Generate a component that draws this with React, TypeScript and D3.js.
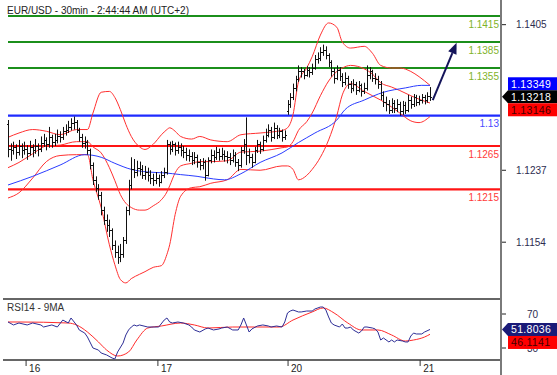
import React from "react";
import * as d3 from "d3";

const title = "EUR/USD - 30min - 2:44:44 AM (UTC+2)";

// OHLC (30 min bars); open = previous close unless overridden
const closes = [
  1.1262, 1.1260, 1.1264, 1.1258, 1.1265, 1.1260, 1.1262, 1.1257, 1.1264, 1.1260,
  1.1265, 1.1261, 1.1269, 1.1272, 1.1267, 1.1275, 1.1270, 1.1272, 1.1277, 1.1275,
  1.1282, 1.1284, 1.1287, 1.1291, 1.1293, 1.1284, 1.1275, 1.1268, 1.1270, 1.1260,
  1.1243, 1.1226, 1.1217, 1.1209, 1.1191, 1.1180, 1.1174, 1.1168, 1.1151, 1.1143,
  1.1137, 1.1140, 1.1157, 1.1191, 1.1220, 1.1238, 1.1235, 1.1240, 1.1238, 1.1232,
  1.1235, 1.1231, 1.1228, 1.1226, 1.1228, 1.1224, 1.1231, 1.1235, 1.1267, 1.1262,
  1.1267, 1.1260, 1.1264, 1.1260, 1.1258, 1.1255, 1.1254, 1.1249, 1.1252, 1.1247,
  1.1243, 1.1246, 1.1232, 1.1249, 1.1255, 1.1252, 1.1258, 1.1254, 1.1256, 1.1253,
  1.1252, 1.1249, 1.1255, 1.1247, 1.1243, 1.1260, 1.1267, 1.1255, 1.1252, 1.1247,
  1.1260, 1.1267, 1.1262, 1.1272, 1.1278, 1.1284, 1.1275, 1.1286, 1.1278, 1.1282,
  1.1275, 1.1278, 1.1313, 1.1321, 1.1332, 1.1342, 1.1351, 1.1351, 1.1347, 1.1353,
  1.1350, 1.1355, 1.1365, 1.1367, 1.1374, 1.1376, 1.1370, 1.1362, 1.1351, 1.1344,
  1.1353, 1.1346, 1.1339, 1.1344, 1.1337, 1.1332, 1.1336, 1.1330, 1.1335, 1.1328,
  1.1332, 1.1347, 1.1351, 1.1344, 1.1342, 1.1337, 1.1324, 1.1316, 1.1313, 1.1307,
  1.1315, 1.1309, 1.1313, 1.1305, 1.1312, 1.1307, 1.1318, 1.1314, 1.1321, 1.1316,
  1.1318, 1.1321, 1.1318, 1.1323, 1.13218,
];
const highs = [
  1.1295, 1.1268, 1.1270, 1.1267, 1.1272, 1.1268, 1.1270, 1.1266, 1.1271, 1.1267,
  1.1273, 1.1268, 1.1276, 1.1279, 1.1275, 1.1287, 1.1278, 1.1279, 1.1284, 1.1282,
  1.1287, 1.1290, 1.1294, 1.1297, 1.1299, 1.1295, 1.1286, 1.1279, 1.1276, 1.1272,
  1.1262, 1.1246, 1.1230, 1.1221, 1.1212, 1.1195, 1.1186, 1.1180, 1.1170, 1.1156,
  1.1150, 1.1152, 1.1160, 1.1195, 1.1226, 1.1252, 1.1250, 1.1248, 1.1247, 1.1243,
  1.1242, 1.1240, 1.1237, 1.1233, 1.1235, 1.1232, 1.1236, 1.1240, 1.1272, 1.1270,
  1.1271, 1.1269, 1.1270, 1.1268, 1.1265, 1.1263, 1.1261, 1.1258, 1.1258, 1.1255,
  1.1250, 1.1251, 1.1249, 1.1252, 1.1261, 1.1260, 1.1264, 1.1262, 1.1263, 1.1260,
  1.1259, 1.1257, 1.1261, 1.1258, 1.1250, 1.1264, 1.1273, 1.1298, 1.1262, 1.1256,
  1.1264, 1.1272, 1.1270, 1.1277, 1.1285, 1.1290, 1.1287, 1.1292, 1.1289, 1.1286,
  1.1284, 1.1283, 1.1318, 1.1326, 1.1337, 1.1346, 1.1358, 1.1356, 1.1354, 1.1357,
  1.1356, 1.1360, 1.1370, 1.1373, 1.1379, 1.1382, 1.1380, 1.1372, 1.1364, 1.1355,
  1.1358, 1.1356, 1.1349, 1.1350, 1.1346, 1.1340, 1.1342, 1.1339, 1.1340, 1.1337,
  1.1338, 1.1358, 1.1356, 1.1353, 1.1349, 1.1346, 1.1340, 1.1328, 1.1322, 1.1318,
  1.1320, 1.1318, 1.1319, 1.1316, 1.1317, 1.1316, 1.1324, 1.1322, 1.1325, 1.1324,
  1.1323, 1.1325, 1.1324, 1.1327, 1.1333,
];
const lows = [
  1.1252, 1.1248, 1.1255, 1.1250, 1.1254, 1.1251, 1.1255, 1.1249, 1.1254, 1.1252,
  1.1256, 1.1253, 1.1258, 1.1264, 1.1260, 1.1263, 1.1263, 1.1265, 1.1268, 1.1269,
  1.1272, 1.1277, 1.1280, 1.1283, 1.1284, 1.1280, 1.1270, 1.1263, 1.1262, 1.1255,
  1.1238, 1.1220, 1.1212, 1.1203, 1.1185, 1.1174, 1.1166, 1.1160, 1.1145, 1.1136,
  1.1129, 1.1131, 1.1136, 1.1152, 1.1185, 1.1215, 1.1228, 1.1230, 1.1231, 1.1227,
  1.1226, 1.1224, 1.1221, 1.1219, 1.1221, 1.1218, 1.1222, 1.1228, 1.1232, 1.1255,
  1.1258, 1.1254, 1.1256, 1.1253, 1.1251, 1.1248, 1.1247, 1.1243, 1.1244, 1.1240,
  1.1237, 1.1238, 1.1225, 1.1230, 1.1245, 1.1246, 1.1249, 1.1248, 1.1249, 1.1247,
  1.1245, 1.1243, 1.1246, 1.1241, 1.1236, 1.1240, 1.1256, 1.1243, 1.1245, 1.1240,
  1.1245, 1.1257, 1.1256, 1.1259, 1.1269, 1.1275, 1.1270, 1.1273, 1.1273, 1.1274,
  1.1270, 1.1272, 1.1301, 1.1309, 1.1318, 1.1328, 1.1339, 1.1344, 1.1342, 1.1345,
  1.1344, 1.1347, 1.1353, 1.1360, 1.1363, 1.1369, 1.1365, 1.1356, 1.1345, 1.1337,
  1.1341, 1.1340, 1.1333, 1.1335, 1.1331, 1.1326, 1.1328, 1.1324, 1.1327, 1.1322,
  1.1325, 1.1329, 1.1342, 1.1339, 1.1336, 1.1331, 1.1318, 1.1310, 1.1305, 1.1302,
  1.1303, 1.1303, 1.1304, 1.1300, 1.1301, 1.1302, 1.1304, 1.1308, 1.1310, 1.1311,
  1.1312, 1.1314, 1.1313, 1.1315, 1.1317,
];
const openOverrides: Record<number, number> = { 0: 1.129, 102: 1.1305 };

// Bollinger bands (sampled at bar indices)
const bbIdx = [0, 4, 9, 14, 19, 25, 29, 31, 34, 37, 39, 41, 43, 45, 48, 50, 53, 56, 58, 59, 61, 63, 67, 70, 74, 80, 85, 92, 100, 102, 104, 106, 109, 111, 114, 117, 120, 122, 125, 130, 133, 136, 140, 143, 147, 150, 154];
const bbUpper = [1.1275, 1.128, 1.1284, 1.1282, 1.1278, 1.1284, 1.1284, 1.1303, 1.1327, 1.1328, 1.1321, 1.1307, 1.129, 1.1276, 1.1264, 1.1261, 1.1267, 1.1278, 1.1284, 1.1286, 1.1282, 1.1276, 1.1273, 1.1276, 1.1272, 1.127, 1.1278, 1.128, 1.1283, 1.1286, 1.1301, 1.1339, 1.1355, 1.1368, 1.1393, 1.1407, 1.1402, 1.1385, 1.1378, 1.138, 1.1372, 1.1358, 1.1355, 1.1355, 1.1351, 1.1345, 1.1335];
const bbMid = [1.124, 1.1246, 1.1256, 1.1265, 1.1266, 1.127, 1.127, 1.1264, 1.1257, 1.124, 1.1225, 1.1209, 1.1199, 1.1194, 1.1191, 1.1191, 1.1196, 1.1203, 1.1212, 1.1219, 1.1234, 1.1242, 1.1245, 1.1247, 1.1247, 1.1248, 1.1258, 1.1259, 1.1263, 1.1264, 1.127, 1.1283, 1.1293, 1.1303, 1.1323, 1.134, 1.1351, 1.1355, 1.1358, 1.1354, 1.1348, 1.1338, 1.1333, 1.1329, 1.1323, 1.1319, 1.13146];
const bbLower = [1.1205, 1.1211, 1.1228, 1.1247, 1.1254, 1.1255, 1.1255, 1.1226, 1.1194, 1.1151, 1.1128, 1.1111, 1.1107, 1.1112, 1.1117, 1.112, 1.1125, 1.1127, 1.114, 1.1151, 1.1186, 1.1207, 1.1217, 1.1218, 1.1222, 1.1226, 1.1238, 1.1237, 1.1242, 1.1242, 1.1238, 1.1226, 1.1231, 1.1238, 1.1252, 1.1272, 1.13, 1.1324, 1.1337, 1.1328, 1.1323, 1.1318, 1.131, 1.1303, 1.1294, 1.1292, 1.1299];

// Moving average (blue)
const maIdx = [0, 9, 19, 28, 34, 39, 45, 51, 57, 63, 69, 75, 79, 85, 92, 100, 106, 112, 120, 123, 130, 137, 145, 151, 154];
const maVals = [1.122, 1.123, 1.1243, 1.1255, 1.1252, 1.1245, 1.1238, 1.1235, 1.1234, 1.1232, 1.123, 1.1227, 1.1226, 1.1233, 1.1246, 1.1257, 1.1269, 1.128, 1.1295, 1.1307, 1.1318, 1.1327, 1.1332, 1.1335, 1.13349];

// RSI14 and its 9MA
const rsiIdx = [0, 2, 4, 7, 9, 12, 13, 16, 18, 20, 22, 23, 25, 26, 28, 29, 31, 33, 34, 36, 38, 39, 40, 42, 43, 44, 45, 46, 47, 48, 51, 53, 55, 57, 58, 59, 60, 62, 64, 66, 67, 68, 70, 72, 73, 75, 77, 78, 80, 82, 84, 85, 86, 87, 88, 89, 91, 93, 95, 96, 98, 100, 101, 102, 103, 104, 106, 107, 109, 111, 112, 114, 115, 116, 117, 118, 119, 121, 122, 123, 124, 125, 126, 128, 129, 130, 131, 133, 134, 135, 136, 137, 139, 140, 141, 142, 144, 145, 146, 147, 148, 149, 151, 152, 154];
const rsiVals = [60.6, 57.1, 59.4, 57.1, 59.4, 57.1, 54.7, 57.1, 54.7, 62.9, 59.4, 65.3, 57.1, 51.2, 47.6, 42.9, 30.0, 27.6, 24.1, 21.8, 18.2, 17.1, 25.3, 35.9, 45.3, 51.2, 54.7, 57.1, 55.9, 57.1, 54.7, 54.7, 54.7, 62.9, 65.3, 60.6, 59.4, 60.6, 59.4, 57.1, 54.7, 51.2, 48.8, 52.4, 53.5, 51.2, 52.4, 53.5, 54.7, 51.2, 51.2, 57.1, 65.3, 57.1, 48.8, 52.4, 55.9, 57.1, 55.9, 54.7, 55.9, 54.7, 60.6, 71.2, 73.5, 74.7, 72.4, 72.4, 73.5, 73.5, 75.9, 78.2, 78.2, 74.7, 66.5, 59.4, 57.1, 54.7, 58.2, 53.5, 53.5, 54.7, 51.2, 47.6, 50.0, 54.7, 54.7, 53.5, 52.4, 48.8, 39.4, 41.8, 37.1, 39.4, 37.1, 39.4, 38.2, 37.1, 37.1, 44.1, 47.6, 46.5, 46.5, 48.8, 51.8036];
const rsiMaIdx = [0, 4, 22, 25, 29, 33, 36, 40, 44, 47, 51, 56, 63, 68, 73, 82, 90, 99, 104, 111, 115, 119, 124, 129, 135, 140, 145, 148, 152, 154];
const rsiMaVals = [60.6, 60.6, 59.4, 57.1, 48.8, 37.1, 27.6, 20.6, 25.3, 39.4, 53.5, 55.9, 59.4, 57.1, 53.5, 54.7, 54.7, 54.7, 62.9, 72.4, 77.1, 71.2, 59.4, 51.2, 51.2, 45.3, 38.2, 39.4, 42.9, 46.1141];

// Key levels
const levelValues = [1.1415, 1.1385, 1.1355, 1.13, 1.1265, 1.1215];
const levelLabels = ["1.1415", "1.1385", "1.1355", "1.13", "1.1265", "1.1215"];
const levelKinds = ["res", "res", "res", "pivot", "sup", "sup"];

// Axis ticks
const priceTicks = [1.1405, 1.1237, 1.1154];
const rsiTicks = [70, 30];
const dayTickIdx = [6.6, 54.7, 102.2, 150.4];
const dayLabels = ["16", "17", "20", "21"];

// Scenario arrow (bar index, price)
const arrowFrom = [155, 1.1318];
const arrowTo = [163.7, 1.1384];

// Last-value tags
const lastPrice = 1.13218;
const lastMA = 1.13349;
const lastBB = 1.13146;
const lastRsi = 51.8036;
const lastRsiMa = 46.1141;

const FONT = "'Liberation Sans', Arial, sans-serif";

export default function App() {
  const W = 557;
  const H = 375;
  const axisX = 501;
  const x = d3.scaleLinear().domain([0, 154]).range([8, 430]);
  const y = d3.scaleLinear().domain([1.1154, 1.1415]).range([242.2, 16]);
  const yr = d3.scaleLinear().domain([30, 70]).range([348, 314]);

  const mkLine = (idx: number[], vals: number[], ys: any, curve: any) =>
    d3
      .line<number>()
      .x((_, i) => x(idx[i]))
      .y((d) => ys(d))
      .curve(curve)(vals) || "";

  const levelColor = (k: string) =>
    k === "res" ? "#1b8f1b" : k === "pivot" ? "#1f2bff" : "#ff1414";
  const levelText = (k: string) =>
    k === "res" ? "#7fb32a" : k === "pivot" ? "#4a4aff" : "#ff3a3a";

  // stacked tags
  const tagH = 13;
  const pY = y(lastPrice);
  const maY = Math.min(y(lastMA), pY - tagH);
  const bbY = Math.max(y(lastBB), pY + tagH);
  const rY = yr(lastRsi);
  const rmY = Math.max(yr(lastRsiMa), rY + tagH);

  const tag = (cy: number, label: string, fill: string, color: string, pointer: boolean, key: string) => (
    <g key={key}>
      {pointer ? (
        <polygon points={`${axisX + 1},${cy} ${508},${cy - tagH / 2} ${557},${cy - tagH / 2} ${557},${cy + tagH / 2} ${508},${cy + tagH / 2}`} fill={fill} />
      ) : (
        <rect x={508} y={cy - tagH / 2} width={49} height={tagH} fill={fill} />
      )}
      <text x={511} y={cy + 4} fontSize={10.5} fill={color} fontFamily={FONT} letterSpacing={0.3}>
        {label}
      </text>
    </g>
  );

  const ax = x(arrowFrom[0]);
  const ay = y(arrowFrom[1]);
  const bx = x(arrowTo[0]);
  const by = y(arrowTo[1]);
  const ang = Math.atan2(by - ay, bx - ax);
  const headL = 11;
  const headW = 4.5;
  const hx = bx - headL * Math.cos(ang);
  const hy = by - headL * Math.sin(ang);
  const px = -Math.sin(ang) * headW;
  const py = Math.cos(ang) * headW;

  return (
    <svg
      width={W}
      height={H}
      style={{ position: "fixed", left: 0, top: 0, background: "#fff" }}
      fontFamily={FONT}
    >
      <rect x={0} y={0} width={W} height={H} fill="#fff" />
      {/* title */}
      <text x={7} y={14} fontSize={10} fill="#222">
        {title}
      </text>

      {/* levels */}
      {levelValues.map((v, i) => (
        <g key={"lv" + i}>
          <line x1={8} x2={axisX} y1={y(v)} y2={y(v)} stroke={levelColor(levelKinds[i])} strokeWidth={2.2} />
          <text x={499} y={y(v) + 11.5} fontSize={10} textAnchor="end" fill={levelText(levelKinds[i])}>
            {levelLabels[i]}
          </text>
        </g>
      ))}

      {/* bollinger */}
      <g fill="none" stroke="#ff3030" strokeWidth={1}>
        <path d={mkLine(bbIdx, bbUpper, y, d3.curveMonotoneX)} />
        <path d={mkLine(bbIdx, bbMid, y, d3.curveMonotoneX)} />
        <path d={mkLine(bbIdx, bbLower, y, d3.curveMonotoneX)} />
      </g>
      <path d={mkLine(maIdx, maVals, y, d3.curveMonotoneX)} fill="none" stroke="#2a3cff" strokeWidth={1} />

      {/* bars */}
      <g stroke="#111" strokeWidth={1}>
        {closes.map((c, i) => {
          const o = openOverrides[i] !== undefined ? openOverrides[i] : closes[i - 1];
          const cx = Math.round(x(i)) + 0.5;
          return (
            <g key={"b" + i}>
              <line x1={cx} x2={cx} y1={y(highs[i])} y2={y(lows[i])} />
              <line x1={cx - 1.5} x2={cx} y1={Math.round(y(o)) + 0.5} y2={Math.round(y(o)) + 0.5} />
              <line x1={cx} x2={cx + 1.5} y1={Math.round(y(c)) + 0.5} y2={Math.round(y(c)) + 0.5} />
            </g>
          );
        })}
      </g>

      {/* arrow */}
      <line x1={ax} y1={ay} x2={hx} y2={hy} stroke="#14145a" strokeWidth={2} />
      <polygon points={`${bx},${by} ${hx + px},${hy + py} ${hx - px},${hy - py}`} fill="#14145a" />

      {/* panel separators */}
      <line x1={3} x2={axisX} y1={299} y2={299} stroke="#333" strokeWidth={1.3} />
      <line x1={3} x2={axisX} y1={360} y2={360} stroke="#333" strokeWidth={1.3} />

      {/* RSI */}
      <text x={7} y={311} fontSize={10} fill="#333">
        RSI14 - 9MA
      </text>
      <path d={mkLine(rsiMaIdx, rsiMaVals, yr, d3.curveMonotoneX)} fill="none" stroke="#ff2a2a" strokeWidth={1} />
      <path d={mkLine(rsiIdx, rsiVals, yr, d3.curveLinear)} fill="none" stroke="#2e2e96" strokeWidth={1} />

      {/* day axis */}
      {dayTickIdx.map((d, i) => (
        <g key={"d" + i}>
          <line x1={x(d)} x2={x(d)} y1={360} y2={366} stroke="#333" strokeWidth={1} />
          <text x={x(d) + 3} y={372} fontSize={10} fill="#222">
            {dayLabels[i]}
          </text>
        </g>
      ))}

      {/* right axis */}
      <line x1={axisX} x2={axisX} y1={0} y2={H} stroke="#7a7a7a" strokeWidth={2} />
      {priceTicks.map((t, i) => (
        <g key={"pt" + i}>
          <line x1={axisX + 1} x2={axisX + 5} y1={y(t)} y2={y(t)} stroke="#222" />
          <text x={516} y={y(t) + 3.5} fontSize={10} fill="#2d2d50">
            {t.toFixed(4)}
          </text>
        </g>
      ))}
      {rsiTicks.map((t, i) => (
        <g key={"rt" + i}>
          <line x1={axisX + 1} x2={axisX + 5} y1={yr(t)} y2={yr(t)} stroke="#222" />
          <text x={527} y={yr(t) + 3.5} fontSize={10} fill="#2d2d50">
            {t}
          </text>
        </g>
      ))}

      {/* last value tags */}
      {tag(maY, lastMA.toFixed(5), "#0000ff", "#fff", false, "t1")}
      {tag(pY, lastPrice.toFixed(5), "#000", "#fff", true, "t2")}
      {tag(bbY, lastBB.toFixed(5), "#ff0000", "#400", false, "t3")}
      {tag(rY, lastRsi.toFixed(4), "#1a1a78", "#fff", true, "t4")}
      {tag(rmY, lastRsiMa.toFixed(4), "#ff0000", "#400", false, "t5")}
    </svg>
  );
}
